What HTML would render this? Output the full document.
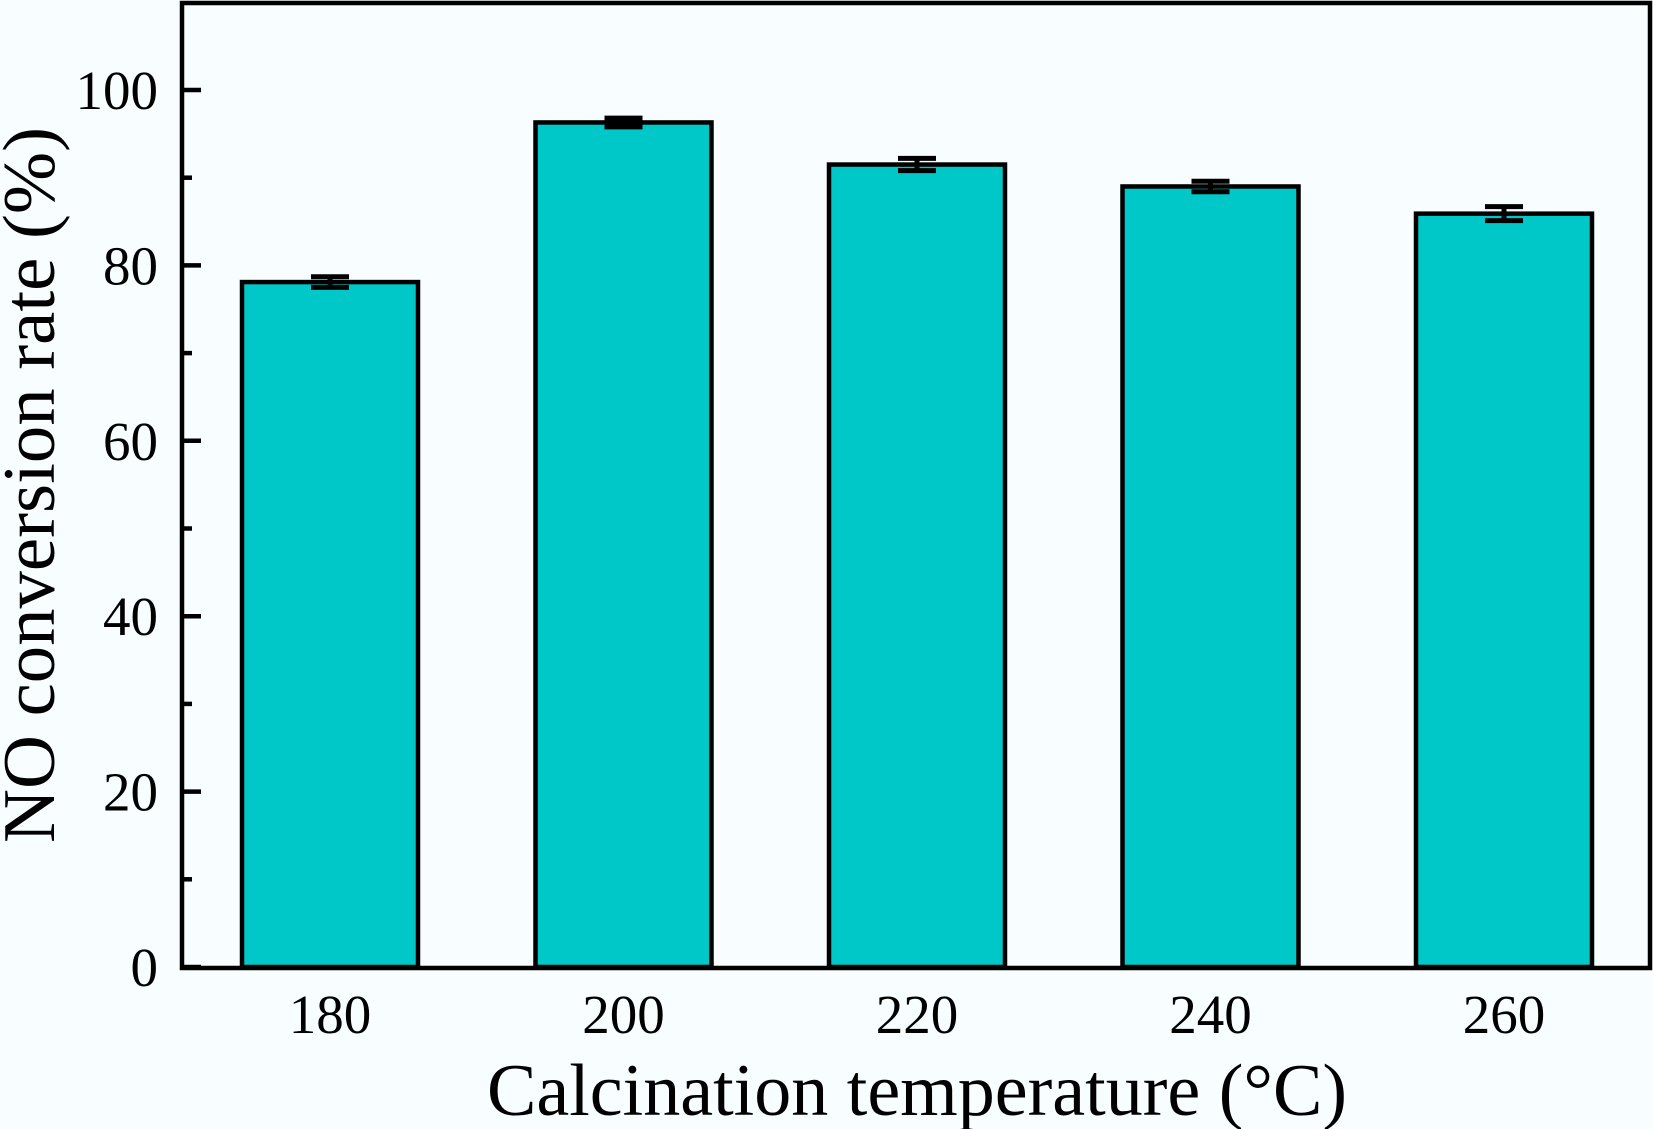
<!DOCTYPE html>
<html><head><meta charset="utf-8"><style>
html,body{margin:0;padding:0;background:#f8feff;}
svg{display:block;font-family:"Liberation Serif",serif;}
</style></head><body>
<svg id="chart" width="1653" height="1129" viewBox="0 0 1653 1129" xmlns="http://www.w3.org/2000/svg">
<rect x="0" y="0" width="1653" height="1129" fill="#f8feff"/>
<g id="bars"></g>
<g id="axes"></g>
<text x="917" y="1115" font-size="74" text-anchor="middle" textLength="860" lengthAdjust="spacingAndGlyphs">Calcination temperature (°C)</text>
<text transform="translate(54,485) rotate(-90)" font-size="74" text-anchor="middle" textLength="716" lengthAdjust="spacingAndGlyphs">NO conversion rate (%)</text>
</svg>
<script>
const categories = ["180","200","220","240","260"];
const values = [78.1, 96.3, 91.5, 89.0, 85.9];
const errors = [0.6, 0.5, 0.7, 0.6, 0.8];
const yTicks = [0,20,40,60,80,100];
const yMinorTicks = [10,30,50,70,90];

const NS="http://www.w3.org/2000/svg";
const L=182,R=1650,T=3,B=968;
function y(v){return 967 - v*8.77;}
function x(i){return 330 + i*293.5;}
const barW=176;
function mk(tag,attrs,parent){const e=document.createElementNS(NS,tag);for(const k in attrs)e.setAttribute(k,attrs[k]);parent.appendChild(e);return e;}
const bars=document.getElementById('bars'), axes=document.getElementById('axes');
categories.forEach((c,i)=>{
  const r=mk('rect',{x:x(i)-barW/2,y:y(values[i]),width:barW,height:y(0)-y(values[i]),fill:'#00c8c8',stroke:'#000','stroke-width':4.5},bars);
  
  
  const g=mk('g',{stroke:'#000','stroke-width':5},bars);
  
  
  const hi=y(values[i]+errors[i]), lo=y(values[i]-errors[i]);
  mk('line',{x1:x(i),x2:x(i),y1:hi,y2:lo},g);
  mk('line',{x1:x(i)-19,x2:x(i)+19,y1:hi,y2:hi},g);
  mk('line',{x1:x(i)-19,x2:x(i)+19,y1:lo,y2:lo},g);
  const t=mk('text',{x:x(i),y:1033,'font-size':55,'text-anchor':'middle'},axes);
  t.textContent=c;
  
  
});
yTicks.forEach(v=>{
  const l=mk('line',{x1:L,x2:L+19,y1:y(v),y2:y(v),stroke:'#000','stroke-width':4.5},axes);
  
  
  const t=mk('text',{x:158,y:y(v)+19,'font-size':55,'text-anchor':'end'},axes);
  t.textContent=v;
  
  
});
yMinorTicks.forEach(v=>{
  const l=mk('line',{x1:L,x2:L+10,y1:y(v),y2:y(v),stroke:'#000','stroke-width':4.5},axes);
  
  
});
const frame=mk('rect',{x:L,y:T,width:R-L,height:B-T,fill:'none',stroke:'#000','stroke-width':4.5},axes);


</script>
</body></html>
